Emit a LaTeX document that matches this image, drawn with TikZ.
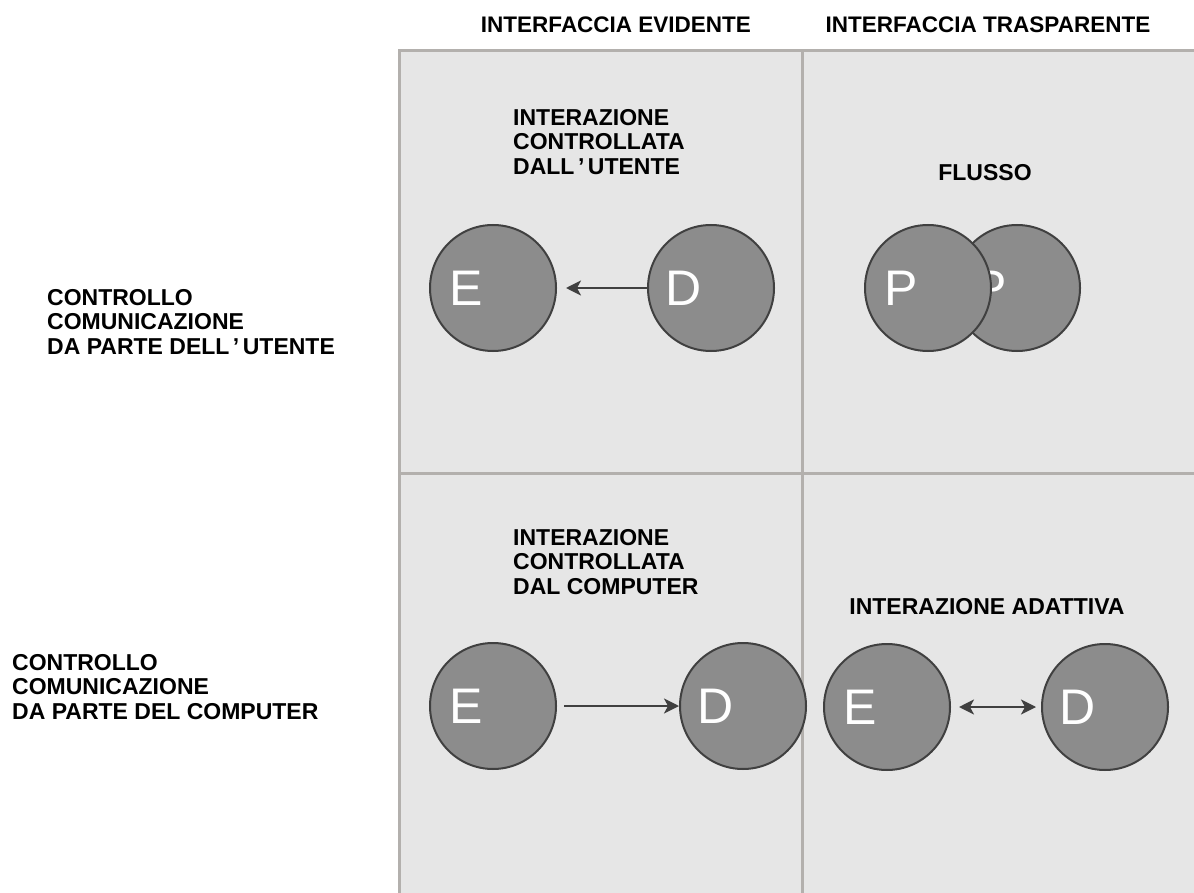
\documentclass[tikz,border=0pt]{standalone}
\usepackage{fontspec}
\setmainfont{Liberation Sans}
\usetikzlibrary{arrows.meta}
\definecolor{panelgray}{HTML}{E6E6E6}
\definecolor{gridgray}{HTML}{B3B0AD}
\definecolor{ballgray}{HTML}{8C8C8C}
\definecolor{rimgray}{HTML}{404040}
\newcommand{\apo}{\hspace{3.5pt}’\hspace{3.5pt}}
\tikzset{
	gridline/.style = {draw=gridgray, line width=3pt},
	head/.style = {
		font=\bfseries\fontsize{22.5}{27}\selectfont,
		inner sep=0pt
	},
	tag/.style = {
		font=\bfseries\fontsize{23}{24.7}\selectfont,
		align=left,
		inner sep=0pt
	},
	ball/.style = {
		circle,
		draw=rimgray,
		fill=ballgray,
		line width=2pt,
		minimum size=126pt,
		inner sep=0pt
	},
	letter/.style = {
		text=white,
		font=\fontsize{50}{50}\selectfont,
		inner sep=0pt,
		xshift=-27pt
	},
	link/.style = {
		draw=rimgray,
		line width=2pt,
		>={Stealth[length=15pt,width=15pt,inset=4pt]}
	}
}

\begin{document}
\begin{tikzpicture}[x=1pt,y=-1pt]
	\useasboundingbox (0,0) rectangle (1194,893);
	% pannello
	\fill[panelgray] (399,51) rectangle (1194,893);
	\draw[gridline] (399,893) -- (399,51) -- (1194,51);
	\draw[gridline] (802,51) -- (802,893);
	\draw[gridline] (399,473) -- (1194,473);

	% intestazioni
	\node[head] (evidente) at (616,25) {INTERFACCIA EVIDENTE};
	\node[head] (trasparente) at (988,25) {INTERFACCIA TRASPARENTE};
	\node[tag, anchor=north west] (utente) at (47,289)
		{CONTROLLO\\COMUNICAZIONE\\DA PARTE DELL\apo UTENTE};
	\node[tag, anchor=north west] (computer) at (12,654)
		{CONTROLLO\\COMUNICAZIONE\\DA PARTE DEL COMPUTER};

	% interazione controllata dall'utente
	\node[tag, anchor=north west] (ctrlutente) at (513,109)
		{INTERAZIONE\\CONTROLLATA\\DALL\apo UTENTE};
	\node[ball, label={[letter]center:E}] (e1) at (493,288) {};
	\node[ball, label={[letter]center:D}] (d1) at (711,288) {};
	\draw[link, ->] (d1.west) -- ([xshift=9pt]e1.east);

	% flusso
	\node[tag] (flusso) at (985,173) {FLUSSO};
	\node[ball, label={[letter]center:P}] (p2) at (1017,288) {};
	\node[ball, label={[letter]center:P}] (p1) at (928,288) {};

	% interazione controllata dal computer
	\node[tag, anchor=north west] (ctrlcomputer) at (513,529)
		{INTERAZIONE\\CONTROLLATA\\DAL COMPUTER};
	\node[ball, label={[letter]center:E}] (e2) at (493,706) {};
	\node[ball, label={[letter]center:D}] (d2) at (743,706) {};
	\draw[link, ->] ([xshift=7pt]e2.east) -- (d2.west);

	% interazione adattiva
	\node[tag] (adattiva) at (987,607) {INTERAZIONE ADATTIVA};
	\node[ball, label={[letter]center:E}] (e3) at (887,707) {};
	\node[ball, label={[letter]center:D}] (d3) at (1105,707) {};
	\draw[link, <->] ([xshift=8pt]e3.east) -- ([xshift=-5pt]d3.west);
\end{tikzpicture}
\end{document}
